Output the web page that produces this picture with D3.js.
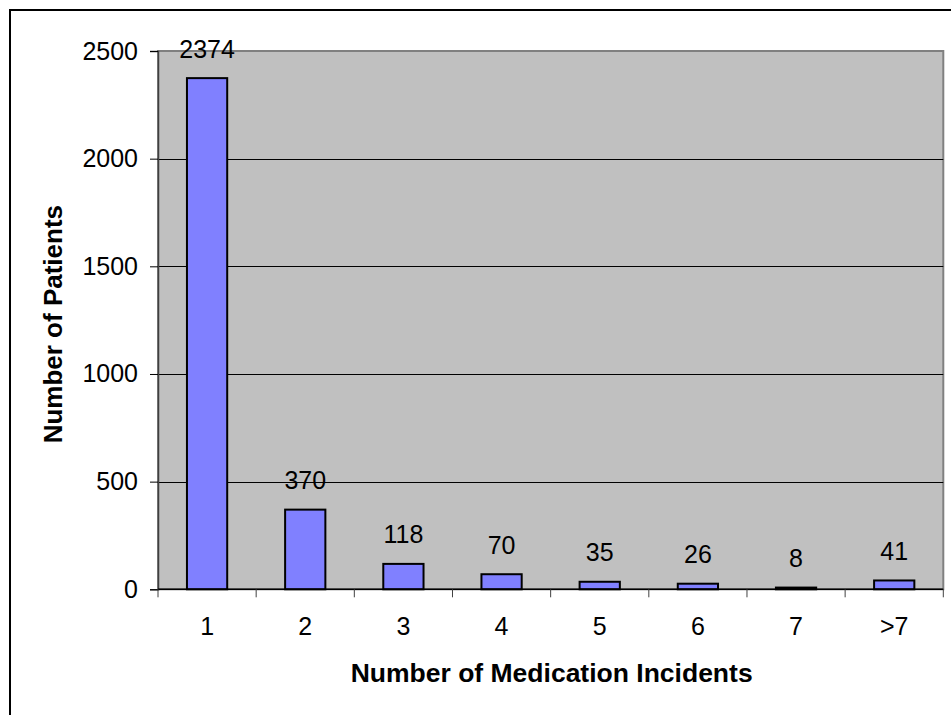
<!DOCTYPE html>
<html>
<head>
<meta charset="utf-8">
<script src="https://cdn.jsdelivr.net/npm/d3@7"></script>
<style>
  html, body { margin: 0; padding: 0; background: #fff; }
  svg { display: block; font-family: "Liberation Sans", Arial, sans-serif; }
</style>
</head>
<body>
<svg id="chart" width="951" height="715"></svg>
<script>
// Patients grouped by how many medication incidents they had
const categories = ["1", "2", "3", "4", "5", "6", "7", ">7"];
const patients = [2374, 370, 118, 70, 35, 26, 8, 41];
const yTicks = [0, 500, 1000, 1500, 2000, 2500];

const svg = d3.select("#chart");
const plot = { left: 158, right: 943.3, top: 51, bottom: 589.3 };

// Outer chart frame (runs off the right and bottom edges)
svg.append("path")
  .attr("d", "M10,1000 L10,10 L1000,10")
  .attr("fill", "none")
  .attr("stroke", "#000")
  .attr("stroke-width", 2);

const x = d3.scaleBand()
  .domain(categories)
  .range([plot.left, plot.right])
  .paddingInner(0.59)
  .paddingOuter(0.295);

const y = d3.scaleLinear()
  .domain([0, 2500])
  .range([plot.bottom, plot.top]);

// Plot area background
svg.append("rect")
  .attr("x", plot.left).attr("y", plot.top)
  .attr("width", plot.right - plot.left)
  .attr("height", plot.bottom - plot.top)
  .attr("fill", "#c0c0c0")
  .attr("stroke", "#808080")
  .attr("stroke-width", 2);

// Horizontal gridlines
svg.append("g")
  .selectAll("line")
  .data(yTicks.filter(d => d > 0 && d < 2500))
  .join("line")
  .attr("x1", plot.left).attr("x2", plot.right)
  .attr("y1", d => Math.round(y(d)) + 0.5)
  .attr("y2", d => Math.round(y(d)) + 0.5)
  .attr("stroke", "#000")
  .attr("stroke-width", 1);

// Y axis
const yAxis = svg.append("g")
  .attr("transform", `translate(${plot.left},0)`)
  .call(d3.axisLeft(y).tickValues(yTicks).tickSize(8).tickPadding(12).tickFormat(d3.format("d")));
yAxis.select(".domain").attr("stroke", "#404040").attr("stroke-width", 1.5);
yAxis.selectAll(".tick line").attr("stroke", "#000");
yAxis.selectAll(".tick text")
  .attr("font-size", 25)
  .attr("font-family", "'Liberation Sans', Arial, sans-serif")
  .attr("fill", "#000");

// Bars
svg.append("g")
  .selectAll("rect")
  .data(categories.map((c, i) => ({ c, v: patients[i] })))
  .join("rect")
  .attr("x", d => x(d.c))
  .attr("y", d => y(d.v))
  .attr("width", x.bandwidth())
  .attr("height", d => y(0) - y(d.v))
  .attr("fill", "#8080ff")
  .attr("stroke", "#000")
  .attr("stroke-width", 2);

// Value labels above bars
svg.append("g")
  .selectAll("text")
  .data(categories.map((c, i) => ({ c, v: patients[i] })))
  .join("text")
  .attr("x", d => x(d.c) + x.bandwidth() / 2)
  .attr("y", d => y(d.v) - 20.5)
  .attr("text-anchor", "middle")
  .attr("font-size", 25)
  .attr("fill", "#000")
  .text(d => d.v);

// X axis line and category boundary ticks
const gap = (x.step() - x.bandwidth()) / 2;
const bounds = categories.map(c => x(c) - gap).concat([plot.right]);
svg.append("line")
  .attr("x1", plot.left).attr("x2", plot.right)
  .attr("y1", plot.bottom).attr("y2", plot.bottom)
  .attr("stroke", "#000").attr("stroke-width", 1.5);
svg.append("g")
  .selectAll("line")
  .data(bounds)
  .join("line")
  .attr("x1", d => d).attr("x2", d => d)
  .attr("y1", plot.bottom).attr("y2", plot.bottom + 8)
  .attr("stroke", "#404040").attr("stroke-width", 1);

// Category labels
svg.append("g")
  .selectAll("text")
  .data(categories)
  .join("text")
  .attr("x", d => x(d) + x.bandwidth() / 2)
  .attr("y", 635)
  .attr("text-anchor", "middle")
  .attr("font-size", 25)
  .attr("fill", "#000")
  .text(d => d);

// Axis titles
svg.append("text")
  .attr("x", (plot.left + plot.right) / 2 + 1)
  .attr("y", 682)
  .attr("text-anchor", "middle")
  .attr("font-size", 26.5)
  .attr("font-weight", "bold")
  .text("Number of Medication Incidents");

svg.append("text")
  .attr("transform", `translate(61.5,${(plot.top + plot.bottom) / 2 + 4}) rotate(-90)`)
  .attr("text-anchor", "middle")
  .attr("font-size", 26)
  .attr("font-weight", "bold")
  .text("Number of Patients");
</script>
</body>
</html>
